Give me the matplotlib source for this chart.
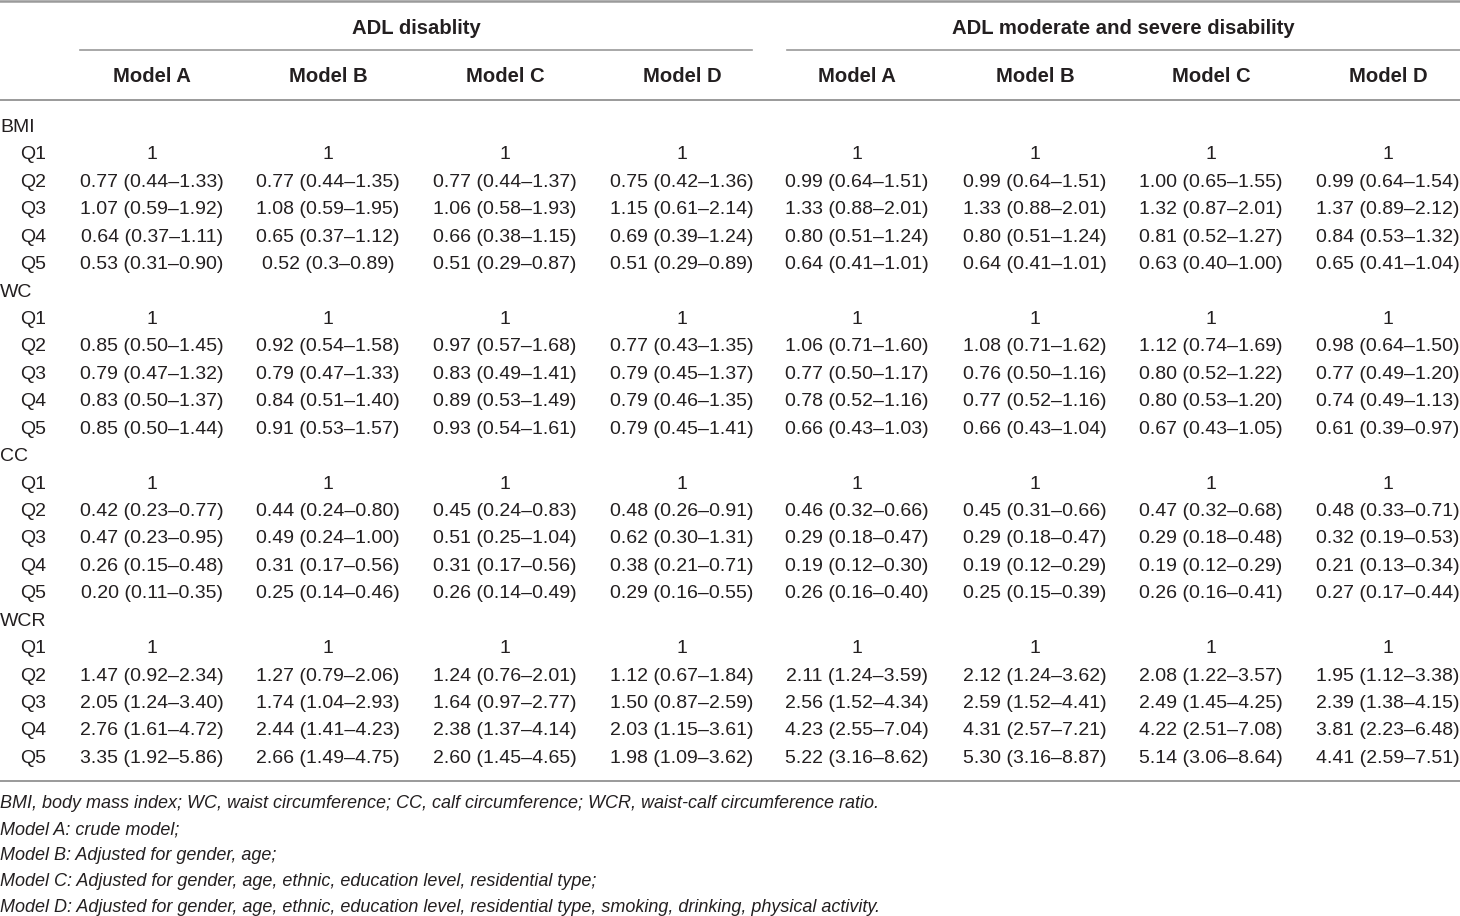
#!/usr/bin/env python3
"""
Table: odds ratios (95% CI) of ADL disability by BMI / WC / CC / WCR quintiles.
Saves: out.png
"""
import matplotlib.pyplot as plt

plt.rcParams['font.family'] = ['Liberation Sans', 'DejaVu Sans']

TXT = "#231f20"
RULE = "#9a9a9a"

groups = ["ADL disablity", "ADL moderate and severe disability"]
models = ["Model A", "Model B", "Model C", "Model D"]
variables = ["BMI", "WC", "CC", "WCR"]
quintiles = ["Q1", "Q2", "Q3", "Q4", "Q5"]

# Q2..Q5 rows, 8 columns (4 models x 2 outcomes); Q1 is reference = 1
bmi_rows = [
    ["0.77 (0.44–1.33)", "0.77 (0.44–1.35)", "0.77 (0.44–1.37)", "0.75 (0.42–1.36)",
     "0.99 (0.64–1.51)", "0.99 (0.64–1.51)", "1.00 (0.65–1.55)", "0.99 (0.64–1.54)"],
    ["1.07 (0.59–1.92)", "1.08 (0.59–1.95)", "1.06 (0.58–1.93)", "1.15 (0.61–2.14)",
     "1.33 (0.88–2.01)", "1.33 (0.88–2.01)", "1.32 (0.87–2.01)", "1.37 (0.89–2.12)"],
    ["0.64 (0.37–1.11)", "0.65 (0.37–1.12)", "0.66 (0.38–1.15)", "0.69 (0.39–1.24)",
     "0.80 (0.51–1.24)", "0.80 (0.51–1.24)", "0.81 (0.52–1.27)", "0.84 (0.53–1.32)"],
    ["0.53 (0.31–0.90)", "0.52 (0.3–0.89)", "0.51 (0.29–0.87)", "0.51 (0.29–0.89)",
     "0.64 (0.41–1.01)", "0.64 (0.41–1.01)", "0.63 (0.40–1.00)", "0.65 (0.41–1.04)"],
]
wc_rows = [
    ["0.85 (0.50–1.45)", "0.92 (0.54–1.58)", "0.97 (0.57–1.68)", "0.77 (0.43–1.35)",
     "1.06 (0.71–1.60)", "1.08 (0.71–1.62)", "1.12 (0.74–1.69)", "0.98 (0.64–1.50)"],
    ["0.79 (0.47–1.32)", "0.79 (0.47–1.33)", "0.83 (0.49–1.41)", "0.79 (0.45–1.37)",
     "0.77 (0.50–1.17)", "0.76 (0.50–1.16)", "0.80 (0.52–1.22)", "0.77 (0.49–1.20)"],
    ["0.83 (0.50–1.37)", "0.84 (0.51–1.40)", "0.89 (0.53–1.49)", "0.79 (0.46–1.35)",
     "0.78 (0.52–1.16)", "0.77 (0.52–1.16)", "0.80 (0.53–1.20)", "0.74 (0.49–1.13)"],
    ["0.85 (0.50–1.44)", "0.91 (0.53–1.57)", "0.93 (0.54–1.61)", "0.79 (0.45–1.41)",
     "0.66 (0.43–1.03)", "0.66 (0.43–1.04)", "0.67 (0.43–1.05)", "0.61 (0.39–0.97)"],
]
cc_rows = [
    ["0.42 (0.23–0.77)", "0.44 (0.24–0.80)", "0.45 (0.24–0.83)", "0.48 (0.26–0.91)",
     "0.46 (0.32–0.66)", "0.45 (0.31–0.66)", "0.47 (0.32–0.68)", "0.48 (0.33–0.71)"],
    ["0.47 (0.23–0.95)", "0.49 (0.24–1.00)", "0.51 (0.25–1.04)", "0.62 (0.30–1.31)",
     "0.29 (0.18–0.47)", "0.29 (0.18–0.47)", "0.29 (0.18–0.48)", "0.32 (0.19–0.53)"],
    ["0.26 (0.15–0.48)", "0.31 (0.17–0.56)", "0.31 (0.17–0.56)", "0.38 (0.21–0.71)",
     "0.19 (0.12–0.30)", "0.19 (0.12–0.29)", "0.19 (0.12–0.29)", "0.21 (0.13–0.34)"],
    ["0.20 (0.11–0.35)", "0.25 (0.14–0.46)", "0.26 (0.14–0.49)", "0.29 (0.16–0.55)",
     "0.26 (0.16–0.40)", "0.25 (0.15–0.39)", "0.26 (0.16–0.41)", "0.27 (0.17–0.44)"],
]
wcr_rows = [
    ["1.47 (0.92–2.34)", "1.27 (0.79–2.06)", "1.24 (0.76–2.01)", "1.12 (0.67–1.84)",
     "2.11 (1.24–3.59)", "2.12 (1.24–3.62)", "2.08 (1.22–3.57)", "1.95 (1.12–3.38)"],
    ["2.05 (1.24–3.40)", "1.74 (1.04–2.93)", "1.64 (0.97–2.77)", "1.50 (0.87–2.59)",
     "2.56 (1.52–4.34)", "2.59 (1.52–4.41)", "2.49 (1.45–4.25)", "2.39 (1.38–4.15)"],
    ["2.76 (1.61–4.72)", "2.44 (1.41–4.23)", "2.38 (1.37–4.14)", "2.03 (1.15–3.61)",
     "4.23 (2.55–7.04)", "4.31 (2.57–7.21)", "4.22 (2.51–7.08)", "3.81 (2.23–6.48)"],
    ["3.35 (1.92–5.86)", "2.66 (1.49–4.75)", "2.60 (1.45–4.65)", "1.98 (1.09–3.62)",
     "5.22 (3.16–8.62)", "5.30 (3.16–8.87)", "5.14 (3.06–8.64)", "4.41 (2.59–7.51)"],
]
footnotes = [
    "BMI, body mass index; WC, waist circumference; CC, calf circumference; WCR, waist-calf circumference ratio.",
    "Model A: crude model;",
    "Model B: Adjusted for gender, age;",
    "Model C: Adjusted for gender, age, ethnic, education level, residential type;",
    "Model D: Adjusted for gender, age, ethnic, education level, residential type, smoking, drinking, physical activity.",
]

W, H = 1460, 916
fig = plt.figure(figsize=(W / 100, H / 100), dpi=100)
ax = fig.add_axes([0, 0, 1, 1])
ax.set_xlim(0, W)
ax.set_ylim(H, 0)
ax.axis("off")

col_x = [152, 328, 505, 682, 857, 1035, 1211, 1388]
group_x = [416, 1123]
group_span = [(80, 752), (787, 1460)]
fs = 14.0
fs_head = 14.6

# rules
ax.plot([0, W], [1, 1], color=RULE, lw=1.8)
for x0, x1 in group_span:
    ax.plot([x0, x1], [50, 50], color=RULE, lw=1.2)
ax.plot([0, W], [100, 100], color=RULE, lw=1.4)
ax.plot([0, W], [781, 781], color=RULE, lw=1.4)

# headers
for gx, g in zip(group_x, groups):
    ax.text(gx, 28, g, ha="center", va="center", fontsize=fs_head, fontweight="bold", color=TXT)
for i, cx in enumerate(col_x):
    ax.text(cx, 77, models[i % 4], ha="center", va="center", fontsize=fs_head,
            fontweight="bold", color=TXT)

# body
y0, dy = 127.5, 27.43
row = 0
for var, rows in zip(variables, [bmi_rows, wc_rows, cc_rows, wcr_rows]):
    ax.text(0, y0 + row * dy, var, ha="left", va="center", fontsize=fs, color=TXT)
    row += 1
    for qi, q in enumerate(quintiles):
        y = y0 + row * dy
        ax.text(20, y, q, ha="left", va="center", fontsize=fs, color=TXT)
        vals = ["1"] * 8 if qi == 0 else rows[qi - 1]
        for cx, v in zip(col_x, vals):
            ax.text(cx, y, v, ha="center", va="center", fontsize=fs, color=TXT)
        row += 1

# footnotes
for i, note in enumerate(footnotes):
    ax.text(0, 804 + i * 25.8, note, ha="left", va="center", fontsize=13.0,
            style="italic", color=TXT)

fig.savefig("out.png", dpi=100, facecolor="white")
